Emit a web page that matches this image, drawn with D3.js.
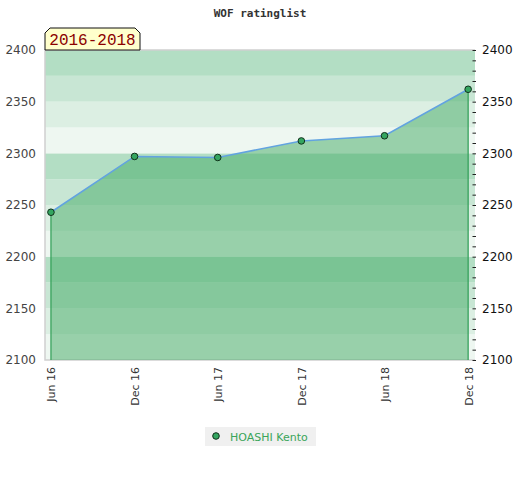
<!DOCTYPE html>
<html>
<head>
<meta charset="utf-8">
<script src="https://cdn.jsdelivr.net/npm/d3@7"></script>
<style>
body { margin: 0; background: #fff; }
svg text { font-family: "DejaVu Sans", sans-serif; }
</style>
</head>
<body>
<div id="chart"></div>
<script>
// data
var periods = ["2016-06-01", "2016-12-01", "2017-06-01", "2017-12-01", "2018-06-01", "2018-12-01"];
var periodLabels = ["Jun 16", "Dec 16", "Jun 17", "Dec 17", "Jun 18", "Dec 18"];
var ratings = [2243, 2297, 2296, 2312, 2317, 2362];
var yTicks = [2100, 2150, 2200, 2250, 2300, 2350, 2400];
var playerName = "HOASHI Kento";
var yearRange = "2016-2018";

var W = 520, H = 480;
// plot frame (window.top is taken, so prefixed names)
var pLeft = 45, pRight = 475, pTop = 50, pBottom = 360;

var parse = d3.timeParse("%Y-%m-%d");
var dates = periods.map(parse);
var pts = dates.map(function(d, i) { return {date: d, v: ratings[i], label: periodLabels[i]}; });

var svg = d3.select("#chart").append("svg")
	.attr("width", W)
	.attr("height", H);

// pad x domain a few days so the end points sit inside the frame
var x = d3.scaleTime()
	.domain([d3.timeDay.offset(dates[0], -13), d3.timeDay.offset(dates[dates.length - 1], 15)])
	.range([pLeft, pRight]);

var y = d3.scaleLinear()
	.domain([2100, 2400])
	.range([pBottom, pTop]);

// background bands, 25 points each
var bandColors = ["#b3dec4", "#c8e6d4", "#dcefe3", "#eef7f1"];
var bands = d3.range(2100, 2400, 25);
svg.append("g").selectAll("rect")
	.data(bands)
	.enter().append("rect")
	.attr("x", pLeft)
	.attr("width", pRight - pLeft)
	.attr("y", function(d) { return y(d + 25); })
	.attr("height", function(d) { return y(d) - y(d + 25); })
	.style("fill", function(d) { return bandColors[((2400 - d - 25) / 25) % 4]; });

// frame
svg.append("path")
	.attr("d", "M" + pRight + "," + pTop + "H" + pLeft + "V" + pBottom + "H" + pRight)
	.style("fill", "none")
	.style("stroke", "#d0d0d0")
	.style("stroke-width", 1.5);

// area under the rating line
var area = d3.area()
	.x(function(d) { return x(d.date); })
	.y0(pBottom)
	.y1(function(d) { return y(d.v); });

svg.append("path")
	.datum(pts)
	.attr("d", area)
	.style("fill", "#41a964")
	.style("fill-opacity", 0.5);

// side edges of the area
svg.append("g").selectAll("line")
	.data([pts[0], pts[pts.length - 1]])
	.enter().append("line")
	.attr("x1", function(d) { return x(d.date); })
	.attr("x2", function(d) { return x(d.date); })
	.attr("y1", function(d) { return y(d.v); })
	.attr("y2", pBottom)
	.style("stroke", "#2f9e55")
	.style("stroke-width", 1.2);

var line = d3.line()
	.x(function(d) { return x(d.date); })
	.y(function(d) { return y(d.v); });

svg.append("path")
	.datum(pts)
	.attr("d", line)
	.style("fill", "none")
	.style("stroke", "#62a3e0")
	.style("stroke-width", 1.6);

svg.append("g").selectAll("circle")
	.data(pts)
	.enter().append("circle")
	.attr("cx", function(d) { return x(d.date); })
	.attr("cy", function(d) { return y(d.v); })
	.attr("r", 3.3)
	.style("fill", "#34a660")
	.style("stroke", "#10301a")
	.style("stroke-width", 1);

// left axis: labels only
var yl = svg.append("g")
	.attr("transform", "translate(" + (pLeft - 9) + ",0)")
	.call(d3.axisLeft(y).tickValues(yTicks).tickSize(0).tickPadding(0).tickFormat(d3.format("d")));
yl.select(".domain").remove();
yl.selectAll("text")
	.style("font-size", "12px")
	.style("fill", "#444");

// right axis: short ticks every 10, labels every 50
var yr = svg.append("g")
	.attr("transform", "translate(" + (pRight - 2.5) + ",0)")
	.call(d3.axisRight(y).tickValues(d3.range(2100, 2401, 10)).tickSize(3.5).tickFormat(""));
yr.select(".domain").remove();
yr.selectAll("line").style("stroke", "#222");

var yr2 = svg.append("g")
	.attr("transform", "translate(" + (pRight + 7) + ",0)")
	.call(d3.axisRight(y).tickValues(yTicks).tickSize(0).tickPadding(0).tickFormat(d3.format("d")));
yr2.select(".domain").remove();
yr2.selectAll("text")
	.style("font-size", "12px")
	.style("fill", "#111");

// x axis labels, rotated
var xa = svg.append("g")
	.attr("transform", "translate(0," + pBottom + ")")
	.call(d3.axisBottom(x).tickValues(dates).tickSize(0).tickFormat(function(d, i) { return periodLabels[i]; }));
xa.select(".domain").remove();
xa.selectAll("text")
	.attr("transform", "rotate(-90)")
	.attr("x", -7)
	.attr("y", 0)
	.attr("dy", "0.35em")
	.style("text-anchor", "end")
	.style("font-size", "11px")
	.style("fill", "#333");

// title
svg.append("text")
	.attr("x", W / 2)
	.attr("y", 17)
	.attr("text-anchor", "middle")
	.style("font-family", "'DejaVu Sans Mono', monospace")
	.style("font-weight", "bold")
	.style("font-size", "11px")
	.style("fill", "#333")
	.text("WOF ratinglist");

// year tag
svg.append("path")
	.attr("d", "M" + pLeft + "," + pTop + "V" + (pTop - 17) + "L" + (pLeft + 5) + "," + (pTop - 22) +
		"H" + (pLeft + 90) + "L" + (pLeft + 95) + "," + (pTop - 17) + "V" + pTop + "Z")
	.style("fill", "#ffffcc")
	.style("stroke", "#111")
	.style("stroke-width", 1);
svg.append("text")
	.attr("x", pLeft + 47.5)
	.attr("y", pTop - 5)
	.attr("text-anchor", "middle")
	.style("font-family", "'Liberation Mono', monospace")
	.style("font-size", "16px")
	.style("fill", "#8b0000")
	.text(yearRange);

// legend
var lg = svg.append("g").attr("transform", "translate(205,427)");
lg.append("rect")
	.attr("width", 111)
	.attr("height", 19)
	.style("fill", "#f0f0f0");
lg.append("circle")
	.attr("cx", 11)
	.attr("cy", 9)
	.attr("r", 3.3)
	.style("fill", "#34a660")
	.style("stroke", "#10301a");
lg.append("text")
	.attr("x", 25)
	.attr("y", 13.5)
	.style("font-size", "11px")
	.style("fill", "#3aa55a")
	.text(playerName);
</script>
</body>
</html>
